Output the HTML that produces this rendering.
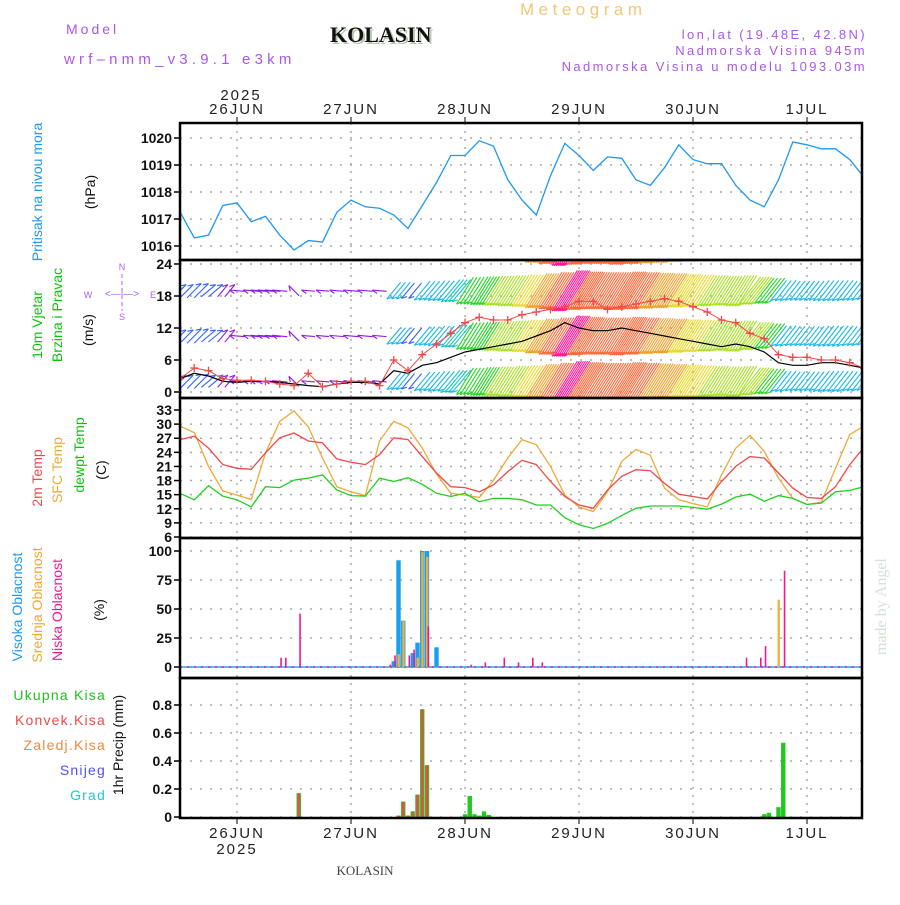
<!DOCTYPE html>
<html><head><meta charset="utf-8"><style>
html,body{margin:0;padding:0;background:#fff;}
svg text{font-family:"Liberation Sans",sans-serif;}
</style></head><body>
<svg id="chart" xmlns="http://www.w3.org/2000/svg" width="900" height="900" viewBox="0 0 900 900">
<g id="texts">
<text x="66" y="34" fill="#a858e8" font-size="14" letter-spacing="3">Model</text>
<text x="64" y="64" fill="#a858e8" font-size="15" letter-spacing="4.2">wrf–nmm_v3.9.1 e3km</text>
<text x="332" y="44" fill="#b8c8b0" font-size="22" font-weight="bold" style="font-family:'Liberation Serif',serif">KOLASIN</text>
<text x="330" y="42" fill="#111" font-size="22" font-weight="bold" style="font-family:'Liberation Serif',serif">KOLASIN</text>
<text x="520" y="15" fill="#f0c878" font-size="17" letter-spacing="4.5">Meteogram</text>
<text x="867" y="39" fill="#a858e8" font-size="13" letter-spacing="2.4" text-anchor="end">lon,lat (19.48E, 42.8N)</text>
<text x="867" y="55" fill="#a858e8" font-size="13" letter-spacing="2.4" text-anchor="end">Nadmorska Visina 945m</text>
<text x="867" y="71" fill="#a858e8" font-size="13" letter-spacing="2.4" text-anchor="end">Nadmorska Visina u modelu 1093.03m</text>
<text x="241" y="100" fill="#222" font-size="15" text-anchor="middle" letter-spacing="2">2025</text>
<text x="237" y="854" fill="#222" font-size="15" text-anchor="middle" letter-spacing="2">2025</text>
<text x="365" y="875" fill="#444" font-size="13" text-anchor="middle" style="font-family:'Liberation Serif',serif">KOLASIN</text>
<text transform="translate(886,655) rotate(-90)" fill="#d6e0d6" font-size="16" style="font-family:'Liberation Serif',serif">made by Angel</text>

<text transform="translate(42,192) rotate(-90)" fill="#1e98f0" font-size="14" text-anchor="middle">Pritisak na nivou mora</text>
<text transform="translate(95,192) rotate(-90)" fill="#111" font-size="14" text-anchor="middle">(hPa)</text>

<text transform="translate(42,325) rotate(-90)" fill="#10c010" font-size="14" text-anchor="middle">10m Vjetar</text>
<text transform="translate(62,315) rotate(-90)" fill="#10c010" font-size="14" text-anchor="middle">Brzina i Pravac</text>
<text transform="translate(93,330) rotate(-90)" fill="#111" font-size="14" text-anchor="middle">(m/s)</text>
<g fill="#b060e8" font-size="9" stroke="none">
<text x="122" y="270" text-anchor="middle">N</text><text x="122" y="320" text-anchor="middle">S</text>
<text x="88" y="298" text-anchor="middle">W</text><text x="153" y="298" text-anchor="middle">E</text>
<text x="122" y="297" text-anchor="middle" font-size="10">&lt;—|—&gt;</text>
<line x1="122" y1="274" x2="122" y2="311" stroke="#b060e8" stroke-dasharray="4,3"/>
</g>

<text transform="translate(42,478) rotate(-90)" fill="#f04848" font-size="14" text-anchor="middle">2m Temp</text>
<text transform="translate(62,470) rotate(-90)" fill="#f0a838" font-size="14" text-anchor="middle">SFC Temp</text>
<text transform="translate(84,455) rotate(-90)" fill="#10c010" font-size="14" text-anchor="middle">dewpt Temp</text>
<text transform="translate(106,470) rotate(-90)" fill="#111" font-size="14" text-anchor="middle">(C)</text>

<text transform="translate(22,607) rotate(-90)" fill="#1e98f0" font-size="14" text-anchor="middle">Visoka Oblacnost</text>
<text transform="translate(42,605) rotate(-90)" fill="#f0a838" font-size="14" text-anchor="middle">Srednja Oblacnost</text>
<text transform="translate(62,610) rotate(-90)" fill="#f01890" font-size="14" text-anchor="middle">Niska Oblacnost</text>
<text transform="translate(104,610) rotate(-90)" fill="#111" font-size="14" text-anchor="middle">(%)</text>

<g font-size="14" text-anchor="end" letter-spacing="1.2">
<text x="106" y="700" fill="#20c020">Ukupna Kisa</text>
<text x="106" y="725" fill="#f04848">Konvek.Kisa</text>
<text x="106" y="750" fill="#f08838">Zaledj.Kisa</text>
<text x="106" y="775" fill="#5050f0">Snijeg</text>
<text x="106" y="800" fill="#20c8c8">Grad</text>
</g>
<text transform="translate(123,745) rotate(-90)" fill="#111" font-size="14" text-anchor="middle">1hr Precip (mm)</text>
</g>
</svg>
<script>
// ---- data (3-hourly from 25JUN 12UTC) ----
const dayLabels = ["26JUN","27JUN","28JUN","29JUN","30JUN","1JUL"];
const pressure = [1017.26,1016.3,1016.4,1017.5,1017.6,1016.9,1017.1,1016.4,1015.85,1016.2,1016.15,1017.25,1017.7,1017.45,1017.4,1017.15,1016.65,1017.5,1018.35,1019.35,1019.35,1019.9,1019.7,1018.45,1017.7,1017.15,1018.6,1019.8,1019.35,1018.8,1019.3,1019.25,1018.45,1018.25,1018.9,1019.75,1019.2,1019.05,1019.05,1018.25,1017.7,1017.45,1018.45,1019.85,1019.75,1019.6,1019.6,1019.2,1018.55];
const pressureTicks = [1016,1017,1018,1019,1020];
const windSpeed = [2.5,3.5,3.0,2.0,1.8,2.0,2.0,1.8,1.5,1.2,1.0,1.5,1.8,1.8,1.5,4.0,3.5,5.0,5.5,6.5,7.5,8.0,8.5,9.0,9.5,10.5,11.5,13.0,12.0,11.5,11.5,12.0,11.5,11.0,10.5,10.0,9.5,9.0,8.5,9.0,8.5,7.5,5.5,5.0,5.0,5.5,5.5,5.0,4.5];
const windGust = [2.5,4.5,4.0,2.5,2.2,2.2,2.0,1.5,1.2,3.5,1.0,1.5,2.0,2.0,1.2,6.0,4.0,7.0,9.0,11.0,13.0,14.0,13.5,13.5,14.5,15.0,15.5,16.0,17.0,17.0,15.5,16.0,16.5,17.0,17.5,17.0,16.0,15.0,13.5,13.0,11.0,10.0,7.0,6.5,6.5,6.0,6.0,5.5,4.5];
const windDir = [225,225,230,220,95,95,95,95,135,95,95,95,95,95,95,40,40,40,40,40,32,32,32,32,32,32,32,32,32,32,32,32,32,32,32,32,32,32,32,32,38,38,38,38,38,38,38,38,38];
const windTicks = [0,6,12,18,24];
const barbLevels = [2,10.5,19,27.5];
const temp2m = [26.7,27.4,24.9,21.4,20.6,20.4,23.9,27.1,28.1,26.4,26.0,22.6,21.9,21.4,23.5,27.1,26.7,23.1,19.6,16.7,16.5,15.6,17.1,19.9,22.3,21.4,17.8,14.6,12.8,12.1,16.0,18.9,20.3,20.1,17.4,15.1,14.6,14.1,17.8,21.0,23.1,22.8,19.6,16.4,14.4,14.2,16.7,21.4,25.1];
const tempSfc = [29.6,28.2,21.0,15.8,14.9,14.0,23.9,30.6,32.8,29.4,22.8,16.7,15.6,14.8,26.4,30.6,29.2,24.9,19.4,15.3,14.9,14.4,18.1,22.8,26.7,25.6,21.0,14.9,12.4,11.4,15.6,22.1,24.6,23.4,16.4,13.9,13.1,12.4,19.2,24.9,27.6,24.2,18.5,14.2,12.9,13.4,20.6,27.8,29.6];
const tempDew = [15.3,13.9,16.9,14.7,13.9,12.4,16.7,16.5,18.1,18.5,19.2,16.0,14.8,14.7,18.5,17.8,18.6,17.2,15.3,14.6,15.3,13.5,14.2,14.2,13.9,12.8,12.8,10.1,8.6,7.8,8.9,10.6,12.1,12.6,12.6,12.6,12.3,11.9,13.0,14.5,15.1,13.6,14.8,14.2,12.9,13.2,15.6,15.9,16.7];
const tempTicks = [6,9,12,15,18,21,24,27,30,33];
const cloudHours = [21,22,25,44,45,46,47,48,49,50,51,52,54,61,64,68,71,74,76,119,122,123,126,127];
const cloudHigh = [0,0,0,0,5,92,40,0,12,21,100,100,17,0,0,0,0,0,0,0,0,0,0,0];
const cloudMid = [0,0,0,0,0,11,40,0,0,8,99,95,0,0,0,0,0,0,0,0,0,0,58,0];
const cloudLow = [8,8,46,2,10,0,0,10,15,0,0,35,0,2,4,8,4,8,4,8,8,18,0,83];
const cloudTicks = [0,25,50,75,100];
const precipHours = [25,46,47,48,49,50,51,52,60,61,62,63,64,65,123,124,126,127];
const precipTotal = [0.17,0.01,0.11,0.01,0.04,0.16,0.77,0.37,0.02,0.15,0.02,0.01,0.04,0.015,0.02,0.03,0.07,0.53];
const precipConv = [0.17,0.01,0.11,0.01,0.04,0.16,0.77,0.37,0,0,0,0,0,0,0,0,0,0];
const precipTicks = [0,0.2,0.4,0.6,0.8];
const precipTickLabels = ["0","0.2","0.4","0.6","0.8"];

// ---- layout ----
const NS = "http://www.w3.org/2000/svg";
const svg = document.getElementById('chart');
const X0 = 180, X1 = 862, PXH = 4.75;
const xH = h => X0 + h * PXH;
const xK = k => xH(k * 3);
const panels = [
  {name:'pressure', top:123, bot:260, y: v => 138 + (1020 - v) * 27},
  {name:'wind', top:260, bot:398, y: v => 392 - v * 128 / 24},
  {name:'temp', top:398, bot:538, y: v => 537 - (v - 6) * 127 / 27},
  {name:'cloud', top:538, bot:678, y: v => 667 - v * 1.16},
  {name:'precip', top:678, bot:818, y: v => 817 - v * 140}
];
function mk(tag, attrs, parent) {
  const e = document.createElementNS(NS, tag);
  for (const k in attrs) e.setAttribute(k, attrs[k]);
  (parent || svg).appendChild(e);
  return e;
}
const defs = mk('defs', {});
panels.forEach(p => {
  const cp = mk('clipPath', {id: 'clip-' + p.name}, defs);
  mk('rect', {x: X0, y: p.top, width: X1 - X0, height: p.bot - p.top}, cp);
});

function yAxis(p, ticks, labels) {
  const g = mk('g', {});
  
  
  ticks.forEach((t, i) => {
    const y = p.y(t);
    mk('line', {x1: X0, x2: X1, y1: y, y2: y, stroke: '#aaa', 'stroke-dasharray': '2,8', 'stroke-width': 1.5}, g);
    mk('line', {x1: X0 - 6, x2: X0, y1: y, y2: y, stroke: '#000', 'stroke-width': 1.5}, g);
    const tx = mk('text', {x: X0 - 8, y: y + 5, 'font-size': 14, 'text-anchor': 'end', fill: '#111', 'font-weight': 'bold'}, g);
    tx.textContent = labels ? labels[i] : String(t);
  });
}
yAxis(panels[0], pressureTicks);
yAxis(panels[1], windTicks);
yAxis(panels[2], tempTicks);
yAxis(panels[3], cloudTicks);
yAxis(panels[4], precipTicks, precipTickLabels);

const xg = mk('g', {});


dayLabels.forEach((d, i) => {
  const x = xH(12 + 24 * i);
  mk('line', {x1: x, x2: x, y1: 123, y2: 818, stroke: '#aaa', 'stroke-dasharray': '2,6', 'stroke-width': 1.5}, xg);
  mk('line', {x1: x, x2: x, y1: 117, y2: 123, stroke: '#000'}, xg);
  mk('line', {x1: x, x2: x, y1: 818, y2: 824, stroke: '#000'}, xg);
  const t1 = mk('text', {x: x, y: 114, 'font-size': 15, 'text-anchor': 'middle', fill: '#222', 'letter-spacing': 2}, xg);
  t1.textContent = d;
  const t2 = mk('text', {x: x, y: 838, 'font-size': 15, 'text-anchor': 'middle', fill: '#222', 'letter-spacing': 2}, xg);
  t2.textContent = d;
});

function poly(vals, p, color, name, w) {
  const pts = vals.map((v, k) => xK(k).toFixed(1) + ',' + p.y(v).toFixed(1)).join(' ');
  const e = mk('polyline', {points: pts, fill: 'none', stroke: color, 'stroke-width': w || 1.3, 'clip-path': 'url(#clip-' + p.name + ')'});
  
  
  return e;
}
poly(pressure, panels[0], '#1e98f0', 'pressure-line');

function speedColor(s) {
  if (s < 2.2) return '#9018e0';
  if (s < 4) return '#3060ff';
  if (s < 6) return '#18b8e8';
  if (s < 7) return '#10c8c0';
  if (s < 8.5) return '#20d820';
  if (s < 9.5) return '#a8e020';
  if (s < 10.5) return '#e8d828';
  if (s < 11.5) return '#f0a028';
  if (s < 12.5) return '#ff6838';
  return '#ff1898';
}
const wp = panels[1];
const bg = mk('g', {'clip-path': 'url(#clip-wind)'});


windSpeed.forEach((s, k) => {
  const t = (windDir[k] + 180) * Math.PI / 180;
  const dx = Math.sin(t), dy = -Math.cos(t);
  const L = 10 + 2.9 * s;
  const col = speedColor(s);
  const n = 1 + Math.floor(s / 2);
  barbLevels.forEach(lv => {
    const yc = wp.y(lv);
    for (let j = 0; j < n; j++) {
      const xc = xK(k) + j * (14.25 / n);
      const x2 = xc + dx * L / 2, y2 = yc + dy * L / 2;
      const b = mk('line', {x1: xc - dx * L / 2, y1: yc - dy * L / 2, x2: x2, y2: y2, stroke: col, 'stroke-width': 1.1}, bg);
      
      
      mk('line', {x1: x2, y1: y2, x2: x2 - dx * 5 + dy * 3, y2: y2 - dy * 5 - dx * 3, stroke: col, 'stroke-width': 1.1}, bg);
    }
  });
});
poly(windSpeed, wp, '#000', 'wind-speed-line', 1.2);
poly(windGust, wp, '#f04848', 'wind-gust-line', 1);
const gg = mk('g', {'clip-path': 'url(#clip-wind)'});


windGust.forEach((v, k) => {
  const x = xK(k), y = wp.y(v);
  const c = mk('path', {d: `M${x-4},${y}h8M${x},${y-4}v8`, stroke: '#f04848', 'stroke-width': 1.3}, gg);
  
  
});

poly(tempSfc, panels[2], '#f0a838', 'sfc-temp-line');
poly(temp2m, panels[2], '#f04848', '2m-temp-line');
poly(tempDew, panels[2], '#20d020', 'dewpoint-line');

const cp = panels[3];
const cg = mk('g', {});


mk('line', {x1: X0, x2: X1, y1: cp.y(0), y2: cp.y(0), stroke: '#18a8f0', 'stroke-width': 1.5}, cg);
mk('line', {x1: X0, x2: X1, y1: cp.y(0), y2: cp.y(0), stroke: '#f01890', 'stroke-width': 1.5, 'stroke-dasharray': '2,5'}, cg);
cloudHours.forEach((h, i) => {
  const x = xH(h), y0 = cp.y(0);
  if (cloudHigh[i] > 0) { const r = mk('rect', {x: x - 2.2, y: cp.y(cloudHigh[i]), width: 4.4, height: y0 - cp.y(cloudHigh[i]), fill: '#18a0f0'}, cg);   }
  if (cloudMid[i] > 0) { const r = mk('rect', {x: x - 1, y: cp.y(cloudMid[i]), width: 2.4, height: y0 - cp.y(cloudMid[i]), fill: '#f0b038'}, cg);   }
  if (cloudLow[i] > 0) { const r = mk('rect', {x: x + 0.5, y: cp.y(cloudLow[i]), width: 1.6, height: y0 - cp.y(cloudLow[i]), fill: '#f01890'}, cg);   }
});

const pp = panels[4];
const pg = mk('g', {});


precipHours.forEach((h, i) => {
  const x = xH(h), y0 = pp.y(0);
  const r = mk('rect', {x: x - 2.2, y: pp.y(precipTotal[i]), width: 4.4, height: y0 - pp.y(precipTotal[i]), fill: '#20c820'}, pg);
  
  
  if (precipConv[i] > 0) {
    const c = mk('rect', {x: x - 1.2, y: pp.y(precipConv[i]), width: 2.4, height: y0 - pp.y(precipConv[i]), fill: '#f04848'}, pg);
    
    
  }
});

panels.forEach(p => {
  const f = mk('rect', {x: X0, y: p.top, width: X1 - X0, height: p.bot - p.top, fill: 'none', stroke: '#000', 'stroke-width': 2.5});
  
  
});
</script>
</body></html>
